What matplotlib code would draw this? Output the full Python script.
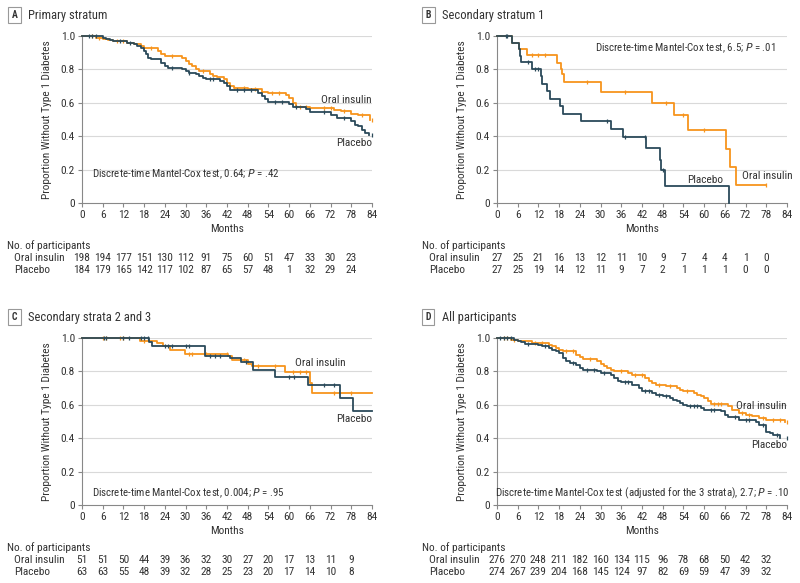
import numpy as np
import matplotlib
matplotlib.use("Agg")
import matplotlib.pyplot as plt
from matplotlib import font_manager
from matplotlib.transforms import blended_transform_factory

names = {f.name for f in font_manager.fontManager.ttflist}
font = 'Lato'
for cand in ['Liberation Sans Narrow', 'Roboto Condensed', 'Open Sans Condensed', 'Noto Sans Condensed']:
    if cand in names:
        font = cand
        break
plt.rcParams['font.family'] = [font, 'DejaVu Sans']
FS = 7.8

ORANGE = '#F7941D'
NAVY = '#2B4A5A'
TXT = '#333333'

months_ticks = list(range(0, 85, 6))
risk_months = list(range(0, 79, 6))

# ---- Panel A: primary stratum
a_oral_t = [0, 4, 6, 7.5, 9, 13, 15, 17, 18, 22, 23, 24, 29, 30, 31, 32, 33, 34, 37, 38, 39, 41, 42, 43,
            44, 48, 52, 54, 59, 60, 61, 62, 66, 73, 75, 78, 80, 83.5]
a_oral_s = [1.0, 0.99, 0.985, 0.975, 0.97, 0.96, 0.95, 0.94, 0.93, 0.91, 0.89, 0.88, 0.87, 0.85, 0.83, 0.82, 0.80, 0.79, 0.77, 0.76, 0.755, 0.745, 0.72, 0.70,
            0.69, 0.68, 0.665, 0.66, 0.645, 0.63, 0.60, 0.575, 0.57, 0.555, 0.55, 0.535, 0.525, 0.50]
a_plac_t = [0, 6, 7, 8, 9, 13, 15, 16, 17, 18, 18.5, 19, 20, 23, 24, 25, 29, 30, 31, 33, 34, 35, 36, 40, 41, 42, 43,
            51, 52, 53, 54, 60, 61, 65, 66, 72, 74, 78, 79, 80, 81, 82, 83]
a_plac_s = [1.0, 0.99, 0.98, 0.975, 0.97, 0.96, 0.95, 0.94, 0.93, 0.91, 0.89, 0.87, 0.86, 0.84, 0.82, 0.81, 0.80, 0.79, 0.78, 0.77, 0.76, 0.75, 0.74, 0.73, 0.72, 0.70, 0.675,
            0.66, 0.64, 0.62, 0.605, 0.59, 0.575, 0.56, 0.545, 0.525, 0.51, 0.49, 0.47, 0.46, 0.44, 0.42, 0.41]
a_oral_cens = [3, 5, 10, 12, 20, 26, 35, 44, 47, 50, 55, 57, 63, 65, 70, 72, 76, 81, 84]
a_plac_cens = [2, 3, 4, 11, 14, 26, 31, 37, 38, 45, 47, 49, 56, 58, 62, 70, 76, 84]
a_risk_oral = [198, 194, 177, 151, 130, 112, 91, 75, 60, 51, 47, 33, 30, 23]
a_risk_plac = [184, 179, 165, 142, 117, 102, 87, 65, 57, 48, 1, 32, 29, 24]

# ---- Panel B: secondary stratum 1
b_oral_t = [0, 4.3, 6.3, 8.7, 17.4, 18.4, 18.8, 19.3, 30.2, 44.9, 51.4, 55.2, 66.3, 67.6, 69.3, 77.9]
b_oral_s = [1.0, 0.96, 0.92, 0.885, 0.84, 0.80, 0.77, 0.725, 0.665, 0.60, 0.525, 0.435, 0.325, 0.215, 0.11, 0.11]
b_plac_t = [0, 4.3, 6.3, 6.6, 7.0, 10.1, 12.6, 13.0, 14.5, 15.3, 18.2, 19.0, 24.3, 33.0, 36.5, 43.2, 47.1, 47.5, 48.6, 67.1]
b_plac_s = [1.0, 0.96, 0.92, 0.88, 0.845, 0.805, 0.76, 0.715, 0.67, 0.625, 0.58, 0.535, 0.49, 0.445, 0.395, 0.33, 0.26, 0.20, 0.10, 0.0]
b_oral_cens = [10, 12, 14, 26, 37, 49, 54, 60, 78]
b_plac_cens = [2.5, 3, 9, 11, 12, 32, 37, 43, 48]
b_risk_oral = [27, 25, 21, 16, 13, 12, 11, 10, 9, 7, 4, 4, 1, 0]
b_risk_plac = [27, 25, 19, 14, 12, 11, 9, 7, 2, 1, 1, 1, 0, 0]

# ---- Panel C: secondary strata 2 and 3
c_oral_t = [0, 16.8, 21.6, 23.5, 25.5, 29.8, 42.4, 43.5, 48.2, 49.1, 58.8, 66.0, 66.7, 84]
c_oral_s = [1.0, 0.98, 0.97, 0.953, 0.93, 0.905, 0.89, 0.87, 0.845, 0.835, 0.795, 0.73, 0.67, 0.67]
c_plac_t = [0, 19.4, 20.4, 35.6, 42.9, 46.0, 49.6, 55.9, 65.6, 74.7, 78.4, 84]
c_plac_s = [1.0, 0.975, 0.95, 0.89, 0.88, 0.855, 0.81, 0.767, 0.72, 0.64, 0.56, 0.56]
c_oral_cens = [6, 7, 11, 12, 18, 31, 32, 36, 42, 47, 51, 56, 61, 63, 65, 73, 78]
c_plac_cens = [6.5, 7, 12, 13.5, 17, 18, 19, 24, 25, 26, 30, 31, 37, 38.5, 40, 47.5, 60, 61.5, 70, 73]
c_risk_oral = [51, 51, 50, 44, 39, 36, 32, 30, 27, 20, 17, 13, 11, 9]
c_risk_plac = [63, 63, 55, 48, 39, 32, 28, 25, 23, 20, 17, 14, 10, 8]

# ---- Panel D: all participants
d_oral_t = [0, 4, 6, 8, 10, 15, 16, 17, 18, 19, 23, 24, 25, 29, 30, 31, 32, 33, 34, 38, 39, 43, 44, 45, 46, 49, 52, 53, 54,
            57, 58, 59, 60, 61, 62, 67, 68, 70, 72, 74, 76, 78, 83.5]
d_oral_s = [1.0, 0.99, 0.985, 0.98, 0.97, 0.96, 0.95, 0.94, 0.93, 0.92, 0.90, 0.885, 0.875, 0.86, 0.845, 0.83, 0.82, 0.81, 0.80, 0.79, 0.78, 0.76, 0.745, 0.73, 0.72, 0.71, 0.70, 0.69, 0.68,
            0.67, 0.66, 0.65, 0.64, 0.62, 0.605, 0.59, 0.57, 0.55, 0.54, 0.53, 0.52, 0.51, 0.495]
d_plac_t = [0, 5, 6, 7, 8, 12, 13, 15, 16, 17, 18, 19, 20, 21, 23, 24, 25, 29, 30, 33, 34, 35, 36, 39, 41, 42, 45, 46, 48,
            50, 51, 52, 53, 54, 55, 59, 60, 65, 66, 67, 70, 75, 76, 78, 79, 80, 82]
d_plac_s = [1.0, 0.99, 0.985, 0.975, 0.965, 0.96, 0.95, 0.94, 0.93, 0.92, 0.91, 0.88, 0.86, 0.85, 0.84, 0.82, 0.81, 0.80, 0.79, 0.78, 0.76, 0.74, 0.735, 0.72, 0.70, 0.685, 0.67, 0.66, 0.65,
            0.64, 0.63, 0.62, 0.61, 0.60, 0.595, 0.58, 0.57, 0.56, 0.54, 0.525, 0.51, 0.495, 0.48, 0.44, 0.43, 0.42, 0.40]
d_oral_cens = [2, 3, 5, 11, 13, 20, 22, 27, 36, 40, 42, 47, 50, 55, 63, 64, 65, 71, 73, 77, 80, 82, 84]
d_plac_cens = [1, 2, 3, 4, 9, 14, 22, 26, 28, 31, 37, 38, 43, 44, 47, 49, 56, 57, 58, 62, 63, 69, 72, 73, 77, 81, 84]
d_risk_oral = [276, 270, 248, 211, 182, 160, 134, 115, 96, 78, 68, 50, 42, 32]
d_risk_plac = [274, 267, 239, 204, 168, 145, 124, 97, 82, 69, 59, 47, 39, 32]

panels = [
    dict(letter='A', title='Primary stratum', pos=(82, 36), labelbox=(8, 15),
         oral=(a_oral_t, a_oral_s, a_oral_cens), plac=(a_plac_t, a_plac_s, a_plac_cens),
         risk=(a_risk_oral, a_risk_plac),
         test=('Discrete-time Mantel-Cox test, 0.64; ', '.42', 0.035, 0.17, 'left'),
         lab_oral=(84, 0.615), lab_plac=(84, 0.36)),
    dict(letter='B', title='Secondary stratum 1', pos=(497, 36), labelbox=(422, 15),
         oral=(b_oral_t, b_oral_s, b_oral_cens), plac=(b_plac_t, b_plac_s, b_plac_cens),
         risk=(b_risk_oral, b_risk_plac),
         test=('Discrete-time Mantel-Cox test, 6.5; ', '.01', 0.96, 0.925, 'right'),
         lab_oral=(85.5, 0.16), lab_plac=(65.5, 0.14)),
    dict(letter='C', title='Secondary strata 2 and 3', pos=(82, 338), labelbox=(8, 317),
         oral=(c_oral_t, c_oral_s, c_oral_cens), plac=(c_plac_t, c_plac_s, c_plac_cens),
         risk=(c_risk_oral, c_risk_plac),
         test=('Discrete-time Mantel-Cox test, 0.004; ', '.95', 0.035, 0.07, 'left'),
         lab_oral=(76.5, 0.85), lab_plac=(84, 0.515)),
    dict(letter='D', title='All participants', pos=(497, 338), labelbox=(422, 317),
         oral=(d_oral_t, d_oral_s, d_oral_cens), plac=(d_plac_t, d_plac_s, d_plac_cens),
         risk=(d_risk_oral, d_risk_plac),
         test=('Discrete-time Mantel-Cox test (adjusted for the 3 strata), 2.7; ', '.10', 1.01, 0.07, 'right'),
         lab_oral=(84, 0.59), lab_plac=(84, 0.36)),
]

W, H = 800, 583
fig = plt.figure(figsize=(8, 5.83), dpi=100)


def step_value(t, s, x):
    i = np.searchsorted(t, x, side='right') - 1
    return np.asarray(s)[i]


for p in panels:
    x0, y0 = p['pos']
    ax = fig.add_axes([x0 / W, 1 - (y0 + 167) / H, 290 / W, 167 / H])
    ax.set_xlim(0, 84)
    ax.set_ylim(0, 1.0)
    for yy in [0.2, 0.4, 0.6, 0.8, 1.0]:
        ax.axhline(yy, color='#d9d9d9', lw=0.8, zorder=0)
    for key, col in [('oral', ORANGE), ('plac', NAVY)]:
        t, s, cens = p[key]
        ax.step(t, s, where='post', color=col, lw=1.3, zorder=3, clip_on=False)
        cy = [step_value(t, s, c) for c in cens]
        ax.plot(cens, cy, ls='none', marker='|', ms=3.5, mew=0.9, color=col, zorder=3, clip_on=False)
    for side in ['top', 'right']:
        ax.spines[side].set_visible(False)
    for side in ['left', 'bottom']:
        ax.spines[side].set_color('#888888')
        ax.spines[side].set_linewidth(0.8)
    ax.set_xticks(months_ticks)
    ax.set_yticks([0, 0.2, 0.4, 0.6, 0.8, 1.0])
    ax.set_yticklabels(['0', '0.2', '0.4', '0.6', '0.8', '1.0'])
    ax.tick_params(length=3, width=0.8, color='#888888', labelsize=FS + 0.4, labelcolor=TXT, pad=2)
    ax.set_xlabel('Months', fontsize=FS + 0.4, color=TXT, labelpad=3)
    ax.set_ylabel('Proportion Without Type 1 Diabetes', fontsize=FS + 0.4, color=TXT, labelpad=6)

    pre, pv, tx, ty, tha = p['test']
    ax.text(tx, ty, pre + r'$\it{P}$' + ' = ' + pv, transform=ax.transAxes,
            fontsize=FS, color=TXT, va='center', ha=tha)
    ox, oy = p['lab_oral']
    ax.text(ox, oy, 'Oral insulin', fontsize=FS + 0.4, color=TXT, ha='right', va='center', clip_on=False)
    px_, py_ = p['lab_plac']
    ax.text(px_, py_, 'Placebo', fontsize=FS + 0.4, color=TXT, ha='right', va='center', clip_on=False)

    # panel label
    lx, ly = p['labelbox']
    fig.text(lx / W + 0.008, 1 - ly / H, p['letter'], fontsize=7, fontweight='bold', color=TXT,
             ha='center', va='center',
             bbox=dict(boxstyle='square,pad=0.35', fc='white', ec='#999999', lw=0.8))
    fig.text((lx + 20) / W, 1 - ly / H, p['title'], fontsize=9, color=TXT, ha='left', va='center')

    # number at risk table
    tr = blended_transform_factory(ax.transData, fig.transFigure)
    base = y0 + 210
    fig.text((x0 - 75) / W, 1 - base / H, 'No. of participants', fontsize=FS + 0.4, color=TXT, va='center')
    for k, (name, row) in enumerate(zip(['Oral insulin', 'Placebo'], p['risk'])):
        yy = 1 - (base + 12 * (k + 1)) / H
        fig.text((x0 - 68) / W, yy, name, fontsize=FS + 0.4, color=TXT, va='center')
        for m, n in zip(risk_months, row):
            ax.text(m, yy, str(n), transform=tr, fontsize=FS + 0.4, color=TXT, ha='center', va='center')

fig.savefig('out.png', dpi=100)
